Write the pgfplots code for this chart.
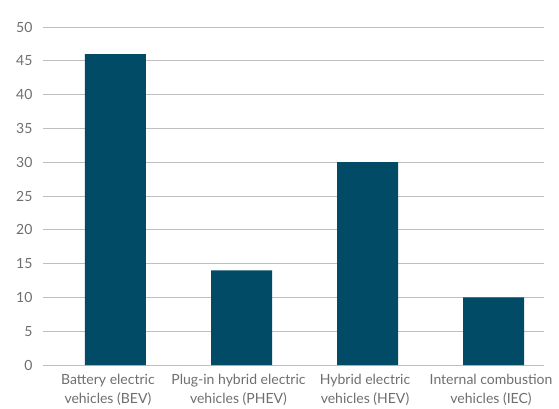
\documentclass[border=0pt]{standalone}
\usepackage{pgfplots}
\pgfplotsset{compat=1.18}
\usepackage{fontspec}
\setmainfont{Lato}
\definecolor{barc}{HTML}{024B66}
\definecolor{gridc}{HTML}{BFBFBF}
\definecolor{txtc}{HTML}{6E6E6E}
\begin{document}
\begin{tikzpicture}
\begin{axis}[
  scale only axis,
  width=501bp, height=338bp,
  xmin=-0.575, xmax=3.40,
  ymin=0, ymax=50,
  ytick={0,5,...,50},
  xtick={-0.06,0.976,1.98,2.98},
  xticklabels={{Battery electric\\vehicles (BEV)},{Plug-in hybrid electric\\vehicles (PHEV)},{Hybrid electric\\vehicles (HEV)},{Internal combustion\\vehicles (IEC)}},
  axis line style={draw=none},
  major tick length=0pt,
  ymajorgrids,
  grid style={gridc, line width=1bp},
  tick label style={font=\fontsize{14bp}{19bp}\selectfont, text=txtc},
  xticklabel style={align=center, yshift=-6bp},
  yticklabel style={xshift=-7bp},
  /pgf/number format/assume math mode=true,
  ybar, bar width=0.484,
]
\addplot[fill=barc, draw=none] coordinates {(0,46) (1,14) (2,30) (3,10)};
\end{axis}
\pgfresetboundingbox
\path[use as bounding box] (-43bp,-44bp) rectangle (516bp,365bp);
\end{tikzpicture}
\end{document}
